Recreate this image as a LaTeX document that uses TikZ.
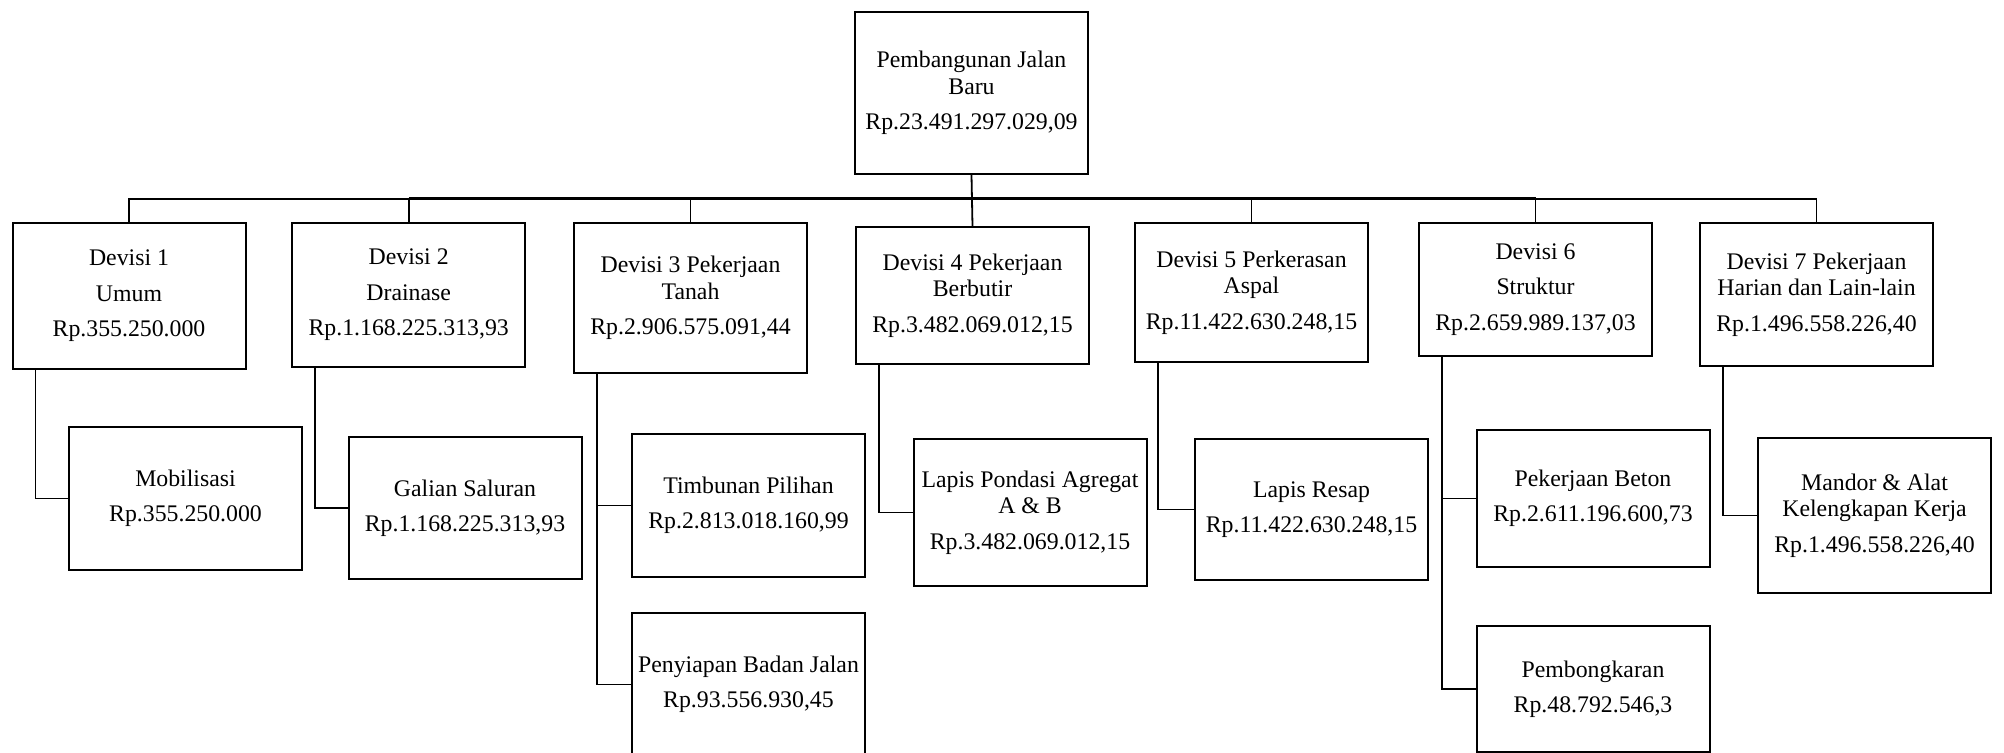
\documentclass[tikz,border=0pt]{standalone}
\usepackage{fontspec}
\setmainfont{Liberation Serif}
\usepackage{tikz}
\tikzstyle{box}=[rectangle,draw,line width=1pt,minimum width=116.5pt,align=center,inner sep=2pt,font=\fontsize{11.9}{13.2}\selectfont]
\tikzstyle{link}=[line width=0.9pt]

\begin{document}
\begin{tikzpicture}[x=0.5pt,y=-0.5pt]
        \useasboundingbox (0,0) rectangle (2004,753);
        \clip (0,0) rectangle (2004,753);
        % top
        \node at (971.5,93) [box,minimum height=81pt] (root) {Pembangunan Jalan\\Baru\\[4.5pt]Rp.23.491.297.029,09};
        % devisi
        \node at (129,296) [box,minimum height=73pt] (D1) {Devisi 1\\[4.5pt]Umum\\[4.5pt]Rp.355.250.000};
        \node at (408.7,295) [box,minimum height=72pt] (D2) {Devisi 2\\[4.5pt]Drainase\\[4.5pt]Rp.1.168.225.313,93};
        \node at (690.5,298) [box,minimum height=75pt] (D3) {Devisi 3 Pekerjaan\\Tanah\\[4.5pt]Rp.2.906.575.091,44};
        \node at (972.5,295.5) [box,minimum height=68.5pt] (D4) {Devisi 4 Pekerjaan\\Berbutir\\[4.5pt]Rp.3.482.069.012,15};
        \node at (1251.5,292.5) [box,minimum height=69.5pt] (D5) {Devisi 5 Perkerasan\\Aspal\\[4.5pt]Rp.11.422.630.248,15};
        \node at (1535.5,289.5) [box,minimum height=66.5pt] (D6) {Devisi 6\\[4.5pt]Struktur\\[4.5pt]Rp.2.659.989.137,03};
        \node at (1816.5,294.5) [box,minimum height=71.5pt] (D7) {Devisi 7 Pekerjaan\\Harian dan Lain-lain\\[4.5pt]Rp.1.496.558.226,40};
        % pekerjaan
        \node at (185.5,498.5) [box,minimum height=71.5pt] (C1) {Mobilisasi\\[4.5pt]Rp.355.250.000};
        \node at (465,508) [box,minimum height=71pt] (C2) {Galian Saluran\\[4.5pt]Rp.1.168.225.313,93};
        \node at (748.5,505.5) [box,minimum height=71.5pt] (C3a) {Timbunan Pilihan\\[4.5pt]Rp.2.813.018.160,99};
        \node at (748.5,684.5) [box,minimum height=71.5pt] (C3b) {Penyiapan Badan Jalan\\[4.5pt]Rp.93.556.930,45};
        \node at (1030,512.5) [box,minimum height=73.5pt] (C4) {Lapis Pondasi Agregat\\A \& B\\[4.5pt]Rp.3.482.069.012,15};
        \node at (1311.5,509.5) [box,minimum height=70.5pt] (C5) {Lapis Resap\\[4.5pt]Rp.11.422.630.248,15};
        \node at (1593,498.5) [box,minimum height=68.5pt] (C6a) {Pekerjaan Beton\\[4.5pt]Rp.2.611.196.600,73};
        \node at (1593,689) [box,minimum height=63pt] (C6b) {Pembongkaran\\[4.5pt]Rp.48.792.546,3};
        \node at (1874.5,515.5) [box,minimum height=77.5pt] (C7) {Mandor \& Alat\\Kelengkapan Kerja\\[4.5pt]Rp.1.496.558.226,40};
        % bus
        \coordinate (bus) at (0,199);
        \draw [link] (root.south) to (D4.north);
        \draw [link] (D1.north) |- (bus -| D2.north);
        \draw [link] (D7.north) |- (bus -| D6.north);
        \draw [line width=1.5pt] (bus -| D2.north) to (bus -| D6.north);
        \foreach \d in {D2,D3,D5,D6}
          \draw [link] (\d.north) to (bus -| \d.north);
        % turunan
        \foreach \d/\c in {D1/C1,D2/C2,D3/C3b,D4/C4,D5/C5,D6/C6b,D7/C7}
          \draw [link] ([xshift=12pt]\d.south west) |- (\c.west);
        \coordinate (d3) at ([xshift=12pt]D3.south west);
        \coordinate (d6) at ([xshift=12pt]D6.south west);
        \draw [link] (d3 |- C3a.west) to (C3a.west);
        \draw [link] (d6 |- C6a.west) to (C6a.west);
      \end{tikzpicture}
\end{document}
